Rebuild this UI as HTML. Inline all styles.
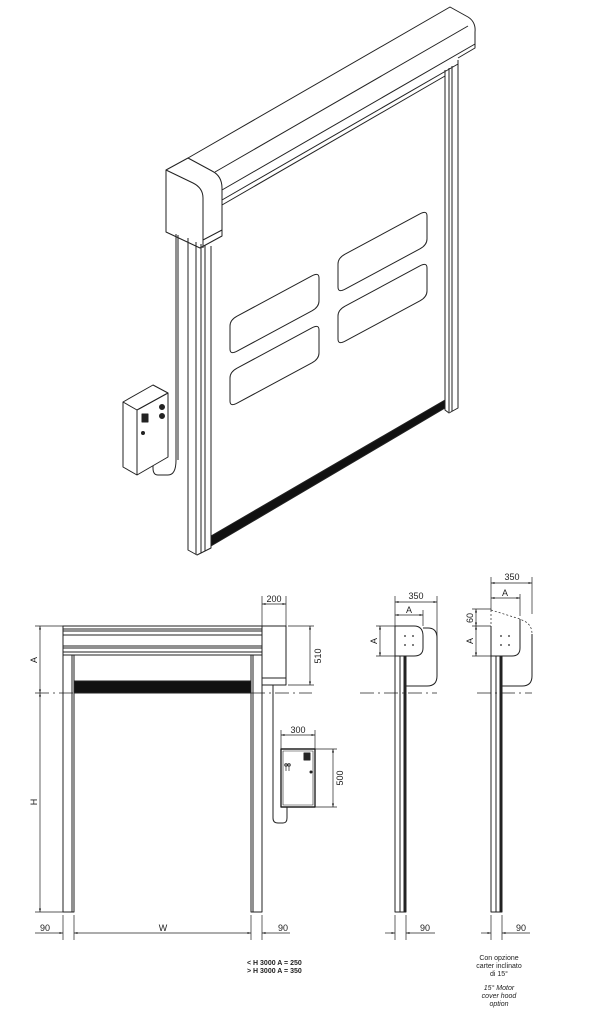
<!DOCTYPE html>
<html><head><meta charset="utf-8"><style>
html,body{margin:0;padding:0;background:#fff;}
svg{display:block;}
text{font-family:"Liberation Sans",sans-serif;fill:#222;}
</style></head><body>
<svg width="613" height="1023" viewBox="0 0 613 1023" xmlns="http://www.w3.org/2000/svg">
<defs>
<marker id="a" viewBox="0 0 10 10" refX="10" refY="5" markerWidth="5" markerHeight="5" orient="auto-start-reverse"><path d="M0,2 L10,5 L0,8 z" fill="#222"/></marker>
</defs>
<g fill="none" stroke="#222" stroke-width="1" stroke-linejoin="round">
<!-- ISOMETRIC -->
<!-- beam -->
<path d="M188,158 L450,7 L468,17 Q476,22 475,32 L475,48 L458,58"/>
<path d="M215,172 L468,26"/>
<path d="M222,190 L475,44"/>
<path d="M222,200 L458,64"/>
<path d="M222,205 L445,76"/>
<!-- head box -->
<path d="M166,170 L188,158 L212,171 Q222,176 222,188 L222,236 L200,248 L166,232 Z" fill="#fff"/>
<path d="M166,170 L193,183 Q203,188 203,198 L203,248"/>
<path d="M203,240 L222,230"/>
<!-- left post -->
<path d="M188,238 L188,550 L197,555 L211,548 L211,246"/>
<path d="M196,242 L196,554"/>
<path d="M201,244 L201,553"/>
<path d="M205,245 L205,551"/>
<!-- right post -->
<path d="M445,70 L445,410 L449,413 L458,408 L458,60"/>
<path d="M449,68 L449,412"/>
<path d="M452,66 L452,411"/>
<!-- bottom bar -->
<path d="M211,536 L445,400 L445,408 L211,546 Z" fill="#111"/>
<!-- windows -->
<path d="M230,326 Q230,320 237,316.2 L312,275.8 Q319,272 319,278 L319,301 Q319,307 312,310.8 L237,351.2 Q230,355 230,349 Z"/>
<path d="M230,378 Q230,372 237,368.2 L312,327.8 Q319,324 319,330 L319,353 Q319,359 312,362.8 L237,403.2 Q230,407 230,401 Z"/>
<path d="M338,264 Q338,258 345,254.2 L420,213.8 Q427,210 427,216 L427,239 Q427,245 420,248.8 L345,289.2 Q338,293 338,287 Z"/>
<path d="M338,316 Q338,310 345,306.2 L420,265.8 Q427,262 427,268 L427,291 Q427,297 420,300.8 L345,341.2 Q338,345 338,339 Z"/>
<!-- cable conduit -->
<path d="M176,234 L176,460 Q176,475 168,475 L158,475 Q153,475 153,468 L153,465"/>
<path d="M178,235 L178,460"/>
<!-- control box -->
<path d="M123,402 L153,385 L168,393 L168,457 L137,475 L123,467 Z" fill="#fff"/>
<path d="M123,402 L137,410 L168,393"/>
<path d="M137,410 L137,475"/>
<path d="M139,409 L166,394"/>
<circle cx="162" cy="407" r="2.5" fill="#222"/>
<circle cx="162" cy="416" r="2.5" fill="#222"/>
<rect x="142" y="414" width="6" height="8" fill="#222"/>
<circle cx="143" cy="433" r="1.5" fill="#222"/>

<!-- FRONT VIEW -->
<rect x="63" y="626" width="199" height="29"/>
<path d="M63,629 H262 M63,631 H262 M63,635 H262 M63,646 H262 M63,648 H262 M63,652 H262"/>
<rect x="262" y="626" width="24" height="59"/>
<path d="M262,678 H286"/>
<rect x="63" y="655" width="11" height="257"/>
<path d="M72,655 V912"/>
<rect x="251" y="655" width="11" height="257"/>
<path d="M253,655 V912"/>
<rect x="74" y="681" width="177" height="12" fill="#111"/>
<path d="M273,685 V818 Q273,823 278,823 H283 Q287,823 287,818 V807"/>
<rect x="281" y="749" width="34" height="58" stroke-width="1.4"/>
<rect x="283" y="751" width="30" height="54" stroke-width="0.6"/>
<rect x="304" y="753" width="6" height="7" fill="#222"/>
<circle cx="311" cy="772" r="1" fill="#222"/>
<circle cx="286" cy="765" r="1.2"/><circle cx="289" cy="765" r="1.2"/>
<path d="M286,767 V771 M289,767 V771" stroke-width="0.7"/>
<!-- dash-dot -->
<path d="M35,693 H312" stroke-dasharray="14,4,2,4" stroke-width="0.8"/>
<!-- dims -->
<g stroke-width="0.7">
<path d="M35,626 H63 M35,912 H63"/>
<path d="M40,626 V693" marker-start="url(#a)" marker-end="url(#a)"/>
<path d="M40,693 V912" marker-start="url(#a)" marker-end="url(#a)"/>
<path d="M262,596 V626 M286,596 V626"/>
<path d="M262,604 H286" marker-start="url(#a)" marker-end="url(#a)"/>
<path d="M288,626 H314 M288,685 H314"/>
<path d="M310,626 V685" marker-start="url(#a)" marker-end="url(#a)"/>
<path d="M281,730 V749 M315,730 V749"/>
<path d="M281,735 H315" marker-start="url(#a)" marker-end="url(#a)"/>
<path d="M315,749 H337 M315,807 H337"/>
<path d="M333,749 V807" marker-start="url(#a)" marker-end="url(#a)"/>
<path d="M63,915 V940 M74,915 V940 M251,915 V940 M262,915 V940"/>
<path d="M35,933 H63" marker-end="url(#a)"/>
<path d="M74,933 H251" marker-start="url(#a)" marker-end="url(#a)"/>
<path d="M290,933 H262" marker-end="url(#a)"/>
</g>

<!-- SIDE VIEW 1 -->
<rect x="395" y="656" width="11" height="256"/>
<path d="M400,656 V912"/>
<path d="M404.5,656 V912" stroke-width="2"/>
<path d="M395,656 V626 H414 Q423,626 423,636 V648 Q423,656 414,656 H395"/>
<path d="M423,628 H428 Q437,628 437,638 V676 Q437,686 427,686 H406"/>
<path d="M360,693 H437" stroke-dasharray="14,4,2,4" stroke-width="0.8"/>
<g stroke-width="0.7">
<path d="M395,596 V626 M437,596 V640 M423,610 V626"/>
<path d="M395,602 H437" marker-start="url(#a)" marker-end="url(#a)"/>
<path d="M395,615 H423" marker-start="url(#a)" marker-end="url(#a)"/>
<path d="M376,626 H395 M376,656 H395"/>
<path d="M380,626 V656" marker-start="url(#a)" marker-end="url(#a)"/>
<path d="M395,915 V940 M406,915 V940"/>
<path d="M385,933 H395" marker-end="url(#a)"/>
<path d="M435,933 H406" marker-end="url(#a)"/>
</g>

<!-- SIDE VIEW 2 -->
<rect x="491" y="656" width="11" height="256"/>
<path d="M496,656 V912"/>
<path d="M500.5,656 V912" stroke-width="2"/>
<path d="M491,656 V626 M520,619 V648 Q520,656 512,656 H491"/>
<path d="M491,610 V626" stroke-dasharray="2,2" stroke-width="0.7"/>
<path d="M491,610 L520,619 L526,622 Q532,626 532,634" stroke-dasharray="2,2" stroke-width="0.7"/>
<path d="M532,634 V676 Q532,686 522,686 H502"/>
<path d="M477,693 H532" stroke-dasharray="14,4,2,4" stroke-width="0.8"/>
<g stroke-width="0.7">
<path d="M491,577 V610 M532,577 V614 M520,594 V616"/>
<path d="M491,583 H532" marker-start="url(#a)" marker-end="url(#a)"/>
<path d="M491,598 H520" marker-start="url(#a)" marker-end="url(#a)"/>
<path d="M472,609 H491 M472,626 H491 M472,656 H491"/>
<path d="M476,609 V626" marker-start="url(#a)" marker-end="url(#a)"/>
<path d="M476,626 V656" marker-start="url(#a)" marker-end="url(#a)"/>
<path d="M491,915 V940 M502,915 V940"/>
<path d="M481,933 H491" marker-end="url(#a)"/>
<path d="M530,933 H502" marker-end="url(#a)"/>
</g>
</g>
<g fill="#222">
<circle cx="405" cy="636" r="0.9"/><circle cx="413" cy="636" r="0.9"/><circle cx="405" cy="645" r="0.9"/><circle cx="413" cy="645" r="0.9"/>
<circle cx="501" cy="636" r="0.9"/><circle cx="509" cy="636" r="0.9"/><circle cx="501" cy="645" r="0.9"/><circle cx="509" cy="645" r="0.9"/>
</g>
<g font-size="9" text-anchor="middle">
<text x="274" y="602">200</text>
<text x="298" y="733">300</text>
<text transform="translate(321,656) rotate(-90)">510</text>
<text transform="translate(343,778) rotate(-90)">500</text>
<text transform="translate(37,660) rotate(-90)">A</text>
<text transform="translate(37,802) rotate(-90)">H</text>
<text x="45" y="931">90</text>
<text x="163" y="931">W</text>
<text x="283" y="931">90</text>
<text x="416" y="599">350</text>
<text x="409" y="613">A</text>
<text transform="translate(377,641) rotate(-90)">A</text>
<text x="425" y="931">90</text>
<text x="512" y="580">350</text>
<text x="505" y="596">A</text>
<text transform="translate(473,618) rotate(-90)">60</text>
<text transform="translate(473,641) rotate(-90)">A</text>
<text x="521" y="931">90</text>
</g>
<g font-size="7" font-weight="bold">
<text x="247" y="965">&lt; H 3000 A = 250</text>
<text x="247" y="973">&gt; H 3000 A = 350</text>
</g>
<g font-size="7" text-anchor="middle">
<text x="499" y="960">Con opzione</text>
<text x="499" y="968">carter inclinato</text>
<text x="499" y="976">di 15°</text>
<g font-style="italic">
<text x="499" y="990">15° Motor</text>
<text x="499" y="998">cover hood</text>
<text x="499" y="1006">option</text>
</g>
</g>
</svg>
</body></html>
